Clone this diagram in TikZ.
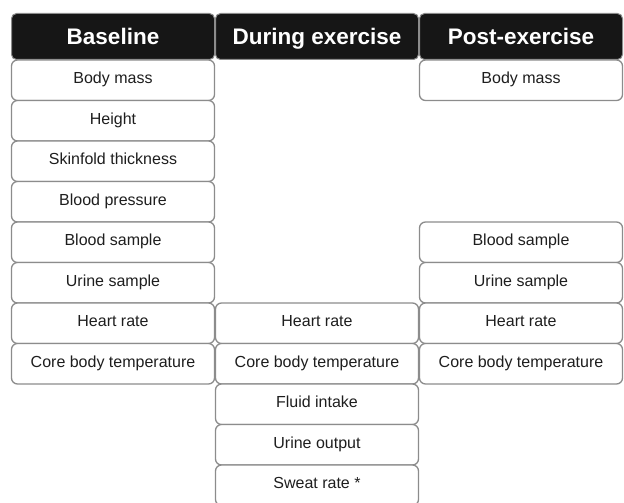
\documentclass[tikz,border=0pt]{standalone}
\usepackage{fontspec}
\setmainfont{Liberation Sans}
\usepackage{xcolor}
\usepackage{tikz}
\usetikzlibrary{positioning}
\definecolor{boxline}{HTML}{8C8C8C}
\definecolor{headfill}{HTML}{161616}
\definecolor{itemtext}{HTML}{1E1E1E}
\tikzset {
  % column headings
  head/.style = {draw=boxline, fill=headfill, text=white, rounded corners=5pt,
    line width=1pt, minimum width=203pt, minimum height=46pt,
    text height=16pt, text depth=0pt,
    font=\bfseries\fontsize{22.5}{26}\selectfont},
  % one measurement
  item/.style = {draw=boxline, fill=white, text=itemtext, rounded corners=6pt,
    line width=1.3pt, minimum width=203pt, minimum height=40.5pt,
    text height=11.5pt, text depth=4.5pt,
    font=\fontsize{16}{19}\selectfont},
}
\begin{document}
\begin{tikzpicture}[x=1pt, y=1pt, node distance=40.5pt]
      \useasboundingbox (0,0) rectangle (624,-503);

      \node[head] (h1) at (113,-36.5) {Baseline};
      \node[head] (h2) at (317,-36.5) {During exercise};
      \node[head] (h3) at (521,-36.5) {Post-exercise};

      % baseline
      \node[item] (b1) at (113,-80.25) {Body mass};
      \node[item] (b2) [below of=b1] {Height};
      \node[item] (b3) [below of=b2] {Skinfold thickness};
      \node[item] (b4) [below of=b3] {Blood pressure};
      \node[item] (b5) [below of=b4] {Blood sample};
      \node[item] (b6) [below of=b5] {Urine sample};
      \node[item] (b7) [below of=b6] {Heart rate};
      \node[item] (b8) [below of=b7] {Core body temperature};

      % during exercise
      \node[item] (d1) [right of=b7, node distance=204pt] {Heart rate};
      \node[item] (d2) [below of=d1] {Core body temperature};
      \node[item] (d3) [below of=d2] {Fluid intake};
      \node[item] (d4) [below of=d3] {Urine output};
      \node[item] (d5) [below of=d4] {Sweat rate *};

      % post-exercise
      \node[item] (p1) [right of=b1, node distance=408pt] {Body mass};
      \node[item] (p2) [right of=b5, node distance=408pt] {Blood sample};
      \node[item] (p3) [below of=p2] {Urine sample};
      \node[item] (p4) [below of=p3] {Heart rate};
      \node[item] (p5) [below of=p4] {Core body temperature};
    \end{tikzpicture}
\end{document}
